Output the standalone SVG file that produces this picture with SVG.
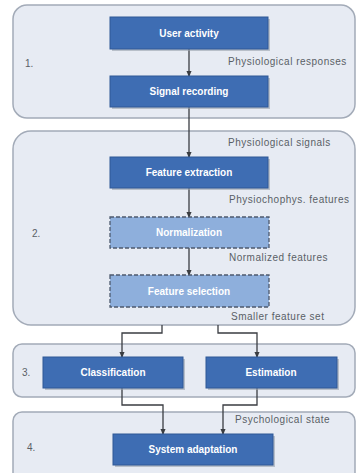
<svg xmlns="http://www.w3.org/2000/svg" width="357" height="473" viewBox="0 0 357 473">
<style>
.panel{fill:#e7ebf3;stroke:#a3abb8;stroke-width:1.5}
.box{fill:#3e6db3;stroke:#2f5996;stroke-width:1}
.dbox{fill:#8eafdc;stroke:#4d5a6e;stroke-width:1.3;stroke-dasharray:4 2}
.shadow{fill:#9aa2ae;opacity:0.6}
.bt{font-family:"Liberation Sans",Arial,sans-serif;font-size:10px;font-weight:bold;fill:#ffffff;text-anchor:middle}
.lb{font-family:"Liberation Sans",Arial,sans-serif;font-size:10px;fill:#5a5f66;letter-spacing:0.5px}
.num{font-family:"Liberation Sans",Arial,sans-serif;font-size:10px;fill:#5a5f66}
.conn{fill:none;stroke:#3a3d42;stroke-width:1.3}
</style>
<defs>
<marker id="ah" viewBox="0 0 6 6" refX="5" refY="3" markerWidth="5" markerHeight="5" orient="auto">
<path d="M0,0.5 L6,3 L0,5.5 Z" fill="#3a3d42"/>
</marker>
</defs>
<rect width="357" height="473" fill="#ffffff"/>
<g id="panels">
<rect class="panel" x="13" y="5" width="342" height="113" rx="14"/>
<rect class="panel" x="13" y="131" width="342" height="194" rx="18"/>
<rect class="panel" x="13" y="344" width="342" height="53" rx="9"/>
<rect class="panel" x="13" y="412" width="342" height="75" rx="9"/>
<text class="num" x="25" y="67">1.</text>
<text class="num" x="32" y="237">2.</text>
<text class="num" x="22" y="376">3.</text>
<text class="num" x="27" y="451">4.</text>
</g>
<g id="connectors">
<line class="conn" x1="189" y1="49" x2="189" y2="76" marker-end="url(#ah)"/>
<line class="conn" x1="189" y1="107" x2="189" y2="157" marker-end="url(#ah)"/>
<line class="conn" x1="189" y1="188" x2="189" y2="217" marker-end="url(#ah)"/>
<line class="conn" x1="189" y1="248" x2="189" y2="275" marker-end="url(#ah)"/>
<path class="conn" d="M162,325 V333 H122 V357" marker-end="url(#ah)"/>
<path class="conn" d="M218,325 V333 H257 V357" marker-end="url(#ah)"/>
<path class="conn" d="M122,388 V405 H163 V434" marker-end="url(#ah)"/>
<path class="conn" d="M257,388 V405 H223 V434" marker-end="url(#ah)"/>
<text class="lb" x="228" y="65">Physiological responses</text>
<text class="lb" x="228" y="146">Physiological signals</text>
<text class="lb" x="229" y="203">Physiochophys. features</text>
<text class="lb" x="229" y="261">Normalized features</text>
<text class="lb" x="231" y="320">Smaller feature set</text>
<text class="lb" x="235" y="423">Psychological state</text>
</g>
<g id="user-activity">
<rect class="shadow" x="112" y="19" width="158" height="32"/>
<rect class="box" x="110" y="17" width="158" height="32"/>
<text class="bt" x="189" y="37">User activity</text>
</g>
<g id="signal-recording">
<rect class="shadow" x="112" y="78" width="158" height="31"/>
<rect class="box" x="110" y="76" width="158" height="31"/>
<text class="bt" x="189" y="95">Signal recording</text>
</g>
<g id="feature-extraction">
<rect class="shadow" x="112" y="159" width="158" height="31"/>
<rect class="box" x="110" y="157" width="158" height="31"/>
<text class="bt" x="189" y="176">Feature extraction</text>
</g>
<g id="normalization">
<rect class="dbox" x="110" y="217" width="159" height="31"/>
<text class="bt" x="189" y="236">Normalization</text>
</g>
<g id="feature-selection">
<rect class="dbox" x="110" y="275" width="159" height="32"/>
<text class="bt" x="189" y="295">Feature selection</text>
</g>
<g id="classification">
<rect class="shadow" x="45" y="359" width="140" height="31"/>
<rect class="box" x="43" y="357" width="140" height="31"/>
<text class="bt" x="113" y="376">Classification</text>
</g>
<g id="estimation">
<rect class="shadow" x="208" y="359" width="131" height="31"/>
<rect class="box" x="206" y="357" width="131" height="31"/>
<text class="bt" x="271" y="376">Estimation</text>
</g>
<g id="system-adaptation">
<rect class="shadow" x="115" y="436" width="160" height="31"/>
<rect class="box" x="113" y="434" width="160" height="31"/>
<text class="bt" x="193" y="453">System adaptation</text>
</g>
</svg>
